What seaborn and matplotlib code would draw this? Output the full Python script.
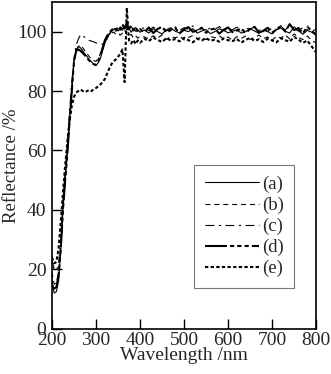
import pandas as pd
import matplotlib.pyplot as plt
import seaborn as sns

# wavelength grid (nm): 5 nm steps up to 400, then 10 nm steps
wl_edge = list(range(200, 401, 5))
wl_flat = list(range(410, 801, 10))
wavelength = wl_edge + wl_flat

labels = ['(a)', '(b)', '(c)', '(d)', '(e)']

refl_a = [16.5, 12, 12.5, 16, 26, 40, 50, 59, 70, 80, 90,
          94, 95, 94.5, 93.5, 92.5, 91.5, 90.5, 89.8, 89, 88.6,
          89.5, 91, 93.5, 96, 98, 99.3, 100, 100.6, 101, 100.2,
          101.3, 100.4, 101.8, 100.6, 101, 99.8, 100.9, 100.1, 100.6, 99.8,
          100.5, 99.5, 101.0, 100.0, 99.2, 100.6, 101.3, 100.1, 99.6, 100.4,
          100.0, 101.0, 99.5, 100.2, 100.7, 99.3, 100.0, 100.9, 100.4, 99.6,
          100.1, 100.6, 99.5, 100.0, 101.0, 100.2, 99.4, 100.5, 100.0, 99.2,
          100.6, 101.2, 100.1, 99.5, 101.6, 100.3, 99.1, 100.4, 99.8, 98.8]

refl_b = [19, 15, 15.5, 19, 28, 41, 51, 60, 71, 81, 90,
          93.5, 95, 95.5, 94.5, 93.5, 92.5, 91.5, 90.8, 90.2, 90,
          91, 92.5, 94.5, 96.5, 98, 99, 99.5, 99.8, 99.2, 99.6,
          98.8, 99.5, 100.5, 99, 98.4, 99.1, 97.9, 98.6, 97.8, 98.3,
          98.2, 97.5, 98.6, 97.8, 98.9, 97.4, 98.3, 97.9, 98.5, 97.2,
          98.0, 98.7, 97.6, 98.1, 97.3, 98.4, 97.9, 98.6, 97.5, 98.2,
          97.0, 98.3, 97.7, 98.5, 97.4, 98.0, 98.8, 97.6, 98.2, 97.1,
          98.4, 97.8, 98.9, 97.5, 99.2, 98.0, 97.3, 98.5, 97.0, 96.2]

refl_c = [23, 20, 19.5, 22, 30, 43, 53, 62, 73, 83, 91,
          95.5, 97.5, 99, 98.5, 98, 97.5, 97, 96.8, 96.5, 96.2,
          96, 95.8, 95.8, 96.2, 97.5, 99, 100, 100.8, 101.2, 100.6,
          101.5, 100.8, 102, 101.2, 100.5, 101.6, 100.9, 101.3, 100.4, 101,
          101.2, 100.3, 101.5, 100.6, 101.8, 100.2, 101.0, 101.6, 100.4, 101.3,
          100.8, 101.9, 100.5, 101.1, 100.2, 101.4, 100.7, 101.7, 100.3, 101.0,
          100.6, 101.5, 100.1, 101.2, 100.8, 101.6, 100.4, 101.1, 100.0, 101.3,
          100.7, 101.8, 100.5, 102.3, 101.0, 100.2, 101.4, 100.6, 99.8, 100.9]

refl_d = [14.5, 13.5, 14, 18, 27, 40, 50, 59, 70, 80, 90,
          93.5, 94, 93.5, 92.8, 92, 91, 90.2, 89.5, 89, 88.8,
          90, 92, 94.5, 97, 98.5, 99.5, 100.5, 101, 100.3, 101.5,
          100.6, 102.5, 101, 103, 100.8, 102, 100.4, 101.5, 99.9, 100.8,
          99.8, 101.4, 99.5, 100.9, 101.6, 99.7, 100.5, 101.2, 99.4, 100.8,
          101.5, 99.9, 100.4, 101.3, 99.6, 100.7, 101.0, 99.3, 100.6, 101.4,
          99.8, 100.3, 101.1, 99.5, 100.9, 101.6, 99.7, 100.2, 101.3, 99.6,
          100.8, 101.8, 100.0, 102.5, 100.5, 101.2, 99.4, 101.7, 100.1, 99.0]

refl_e = [24, 22, 22.5, 27, 36, 46, 55, 63, 70, 75, 78,
          79.5, 80, 80.5, 80, 79.6, 80, 80.4, 80, 80.6, 81,
          81.6, 82.2, 83, 84, 85.8, 87.5, 89, 90, 90.6, 91.5,
          92.5, 94, 83, 108, 97, 96, 97.2, 95.8, 97, 96.2,
          97.6, 96.8, 98.0, 97.2, 96.5, 97.8, 97.0, 97.5, 96.7, 97.9,
          97.1, 96.4, 97.6, 97.0, 97.8, 96.9, 97.3, 96.6, 97.7, 97.1,
          96.8, 97.5, 96.3, 97.2, 97.9, 96.9, 97.4, 96.5, 97.6, 97.0,
          96.4, 97.8, 97.1, 96.6, 98.2, 97.3, 96.2, 97.0, 95.0, 93.0]

series = [refl_a, refl_b, refl_c, refl_d, refl_e]

sns.set_style('ticks')
plt.rcParams['font.family'] = ['Liberation Serif', 'DejaVu Serif']

fig = plt.figure(figsize=(3.31, 3.74), dpi=100)
ax = fig.add_axes([0.157, 0.121, 0.798, 0.874])

styles = [
    dict(ls='-', lw=0.8),
    dict(ls=(0, (4.5, 3.5)), lw=0.8),
    dict(ls=(0, (8, 4, 2, 4)), lw=0.8),
    dict(ls=(0, (10.5, 1.5, 2, 1.5, 2, 1.5, 2, 1.5)), lw=1.5),
    dict(ls=(0, (1.6, 1.1)), lw=1.5),
]

for lab, vals, st in zip(labels, series, styles):
    df = pd.DataFrame({'Wavelength': wavelength, 'Reflectance': vals})
    sns.lineplot(data=df, x='Wavelength', y='Reflectance', color='black',
                 linestyle=st['ls'], linewidth=st['lw'], label=lab, ax=ax)

ax.set_xlim(200, 800)
ax.set_ylim(0, 110)
ax.set_xticks(range(200, 801, 100))
ax.set_yticks(range(0, 101, 20))
ax.tick_params(direction='in', length=7, width=1, labelsize=14, color='black')
ax.tick_params(axis='y', pad=4)
ax.tick_params(axis='x', pad=2)
for sp in ax.spines.values():
    sp.set_linewidth(1.2)
    sp.set_color('black')

ax.set_xlabel('Wavelength /nm', fontsize=14, labelpad=-1)
ax.set_ylabel('Reflectance /%', fontsize=13.5, labelpad=-2)

leg = ax.legend(loc='lower right', bbox_to_anchor=(0.952, 0.097), fontsize=13.5,
                handlelength=2.9, handletextpad=0.15, labelspacing=0.2,
                borderpad=0.55, fancybox=False, framealpha=1)
leg.get_frame().set_edgecolor('#777777')
leg.get_frame().set_linewidth(0.8)

fig.savefig('out.png', dpi=100)
